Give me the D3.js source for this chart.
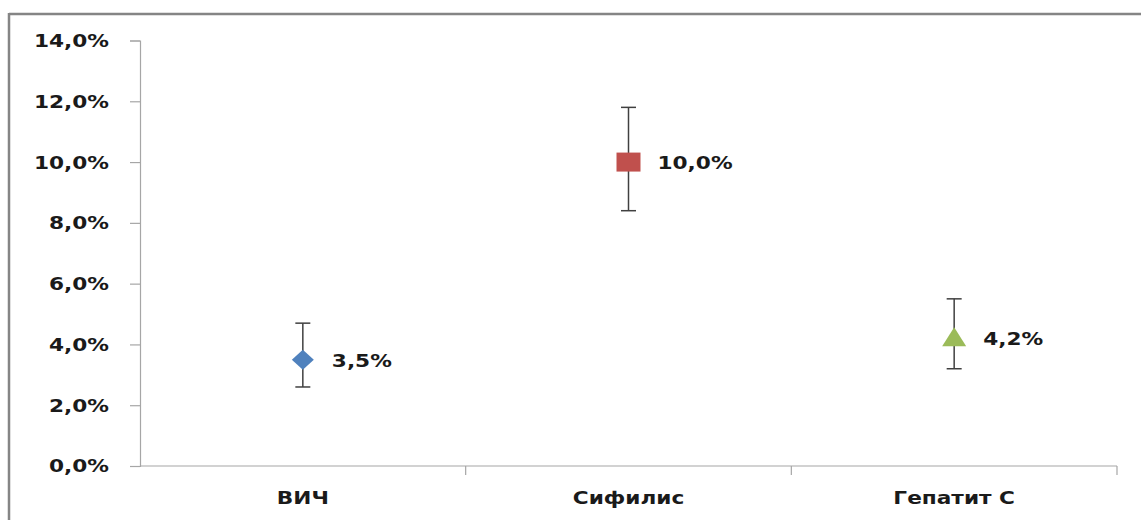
<!DOCTYPE html>
<html><head><meta charset="utf-8">
<script src="https://cdn.jsdelivr.net/npm/d3@7"></script>
<style>
html,body{margin:0;padding:0;background:#fff;overflow:hidden;}
svg{display:block;}
text{font-family:"DejaVu Sans",Verdana,sans-serif;font-weight:bold;fill:#1a1a1a;}
</style></head>
<body>
<svg id="chart" width="1141" height="520"></svg>
<script>
const categories = ["ВИЧ", "Сифилис", "Гепатит С"];
const values = [0.035, 0.100, 0.042];
const upper = [0.047, 0.118, 0.055];
const lower = [0.026, 0.084, 0.032];
const valueLabels = ["3,5%", "10,0%", "4,2%"];
const markers = ["diamond", "square", "triangle"];
const colors = ["#4F81BD", "#C0504D", "#9BBB59"];
const yTicks = [0, 0.02, 0.04, 0.06, 0.08, 0.10, 0.12, 0.14];

const svg = d3.select("#chart");
const SX = 1.17;

// frame (top and left edges visible)
svg.append("line").attr("x1", 9).attr("x2", 1141).attr("y1", 14).attr("y2", 14)
  .attr("stroke", "#858585").attr("stroke-width", 2.5);
svg.append("line").attr("x1", 9).attr("x2", 9).attr("y1", 13).attr("y2", 520)
  .attr("stroke", "#858585").attr("stroke-width", 2.5);

const x = d3.scaleBand().domain(categories).range([140, 1117]).padding(0);
const y = d3.scaleLinear().domain([0, 0.14]).range([466, 40.5]);
const fmt = v => d3.format(".1f")(v * 100).replace(".", ",") + "%";

// y axis
const yAxis = svg.append("g").attr("transform", "translate(140,0)")
  .call(d3.axisLeft(y).tickValues(yTicks).tickSize(10).tickPadding(21).tickFormat(fmt));
yAxis.select(".domain").attr("stroke", "#a6a6a6").attr("stroke-width", 1.2);
yAxis.selectAll(".tick line").attr("stroke", "#a6a6a6").attr("stroke-width", 1.2);
yAxis.selectAll(".tick text").attr("font-size", 18.5).attr("fill", "#1a1a1a")
  .attr("font-family", '"DejaVu Sans",Verdana,sans-serif').attr("font-weight", "bold")
  .each(function(){
    const t = d3.select(this);
    const tx = +t.attr("x");
    t.attr("x", 0).attr("transform", `translate(${tx},0) scale(${SX},1)`);
  });

// x axis
const xg = svg.append("g");
xg.append("line").attr("x1", 140).attr("x2", 1117).attr("y1", y(0)).attr("y2", y(0))
  .attr("stroke", "#a6a6a6").attr("stroke-width", 1.2);
const bounds = categories.map(c => x(c) + x.bandwidth());
xg.selectAll("line.bt").data(bounds).join("line").attr("class", "bt")
  .attr("x1", d => d).attr("x2", d => d).attr("y1", y(0)).attr("y2", y(0) + 9)
  .attr("stroke", "#a6a6a6").attr("stroke-width", 1.2);
xg.selectAll("text.cat").data(categories).join("text").attr("class", "cat")
  .attr("transform", d => `translate(${x(d) + x.bandwidth() / 2},${y(0) + 38}) scale(${SX},1)`)
  .attr("text-anchor", "middle").attr("font-size", 18.5).text(d => d);

// points
const data = categories.map((c, i) => ({c, v: values[i], hi: upper[i], lo: lower[i], lab: valueLabels[i], m: markers[i], col: colors[i]}));
const g = svg.append("g");
const cx = d => x(d.c) + x.bandwidth() / 2;
g.selectAll("line.eb").data(data).join("line").attr("class", "eb")
  .attr("x1", cx).attr("x2", cx).attr("y1", d => y(d.hi)).attr("y2", d => y(d.lo))
  .attr("stroke", "#404040").attr("stroke-width", 1.5);
["hi", "lo"].forEach(k => {
  g.selectAll("line.cap" + k).data(data).join("line").attr("class", "cap" + k)
    .attr("x1", d => cx(d) - 7.5).attr("x2", d => cx(d) + 7.5)
    .attr("y1", d => y(d[k])).attr("y2", d => y(d[k]))
    .attr("stroke", "#404040").attr("stroke-width", 1.5);
});
function markerPath(m) {
  if (m === "diamond") return "M0,-10L11,0L0,10L-11,0Z";
  if (m === "square") return "M-12,-9.5L12,-9.5L12,9.5L-12,9.5Z";
  return "M0,-11L12,8L-12,8Z";
}
g.selectAll("path.mk").data(data).join("path").attr("class", "mk")
  .attr("transform", d => `translate(${cx(d)},${y(d.v)})`)
  .attr("d", d => markerPath(d.m)).attr("fill", d => d.col);
g.selectAll("text.lab").data(data).join("text").attr("class", "lab")
  .attr("transform", d => `translate(${cx(d) + 29},${y(d.v) + 7}) scale(${SX},1)`)
  .attr("font-size", 18.5).text(d => d.lab);
</script>
</body></html>
